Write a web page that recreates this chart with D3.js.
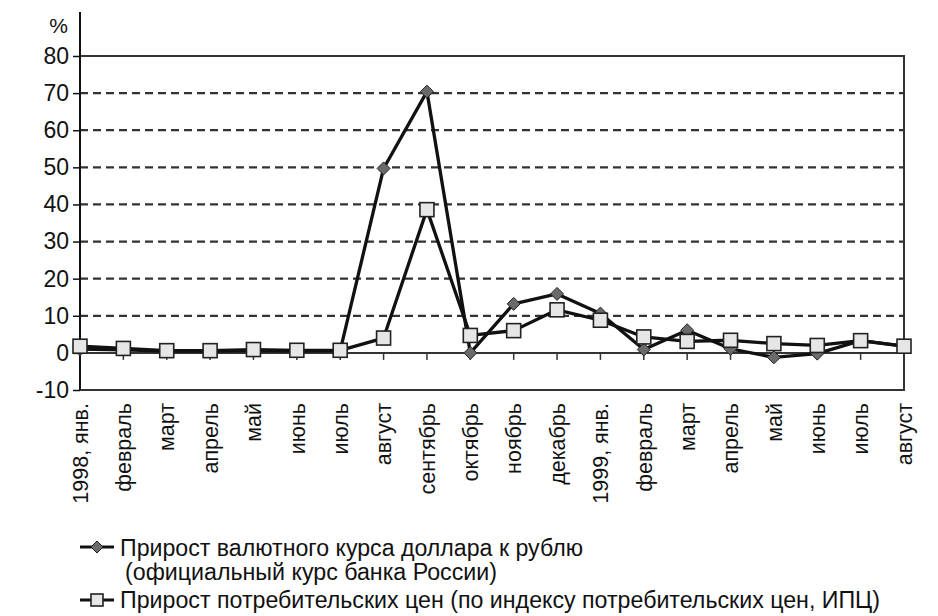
<!DOCTYPE html>
<html>
<head>
<meta charset="utf-8">
<script src="https://cdn.jsdelivr.net/npm/d3@7"></script>
<style>
  html, body { margin: 0; padding: 0; background: #fff; }
  svg { display: block; }
  text { font-family: "Liberation Sans", Arial, Helvetica, sans-serif; fill: #111; }
  text.lt { font-family: "Liberation Sans Narrow", "Arial Narrow", "Liberation Sans", Arial, sans-serif; }
</style>
</head>
<body>
<svg id="chart" width="938" height="616"></svg>
<script>
const months = ["1998, янв.", "февраль", "март", "апрель", "май", "июнь", "июль", "август",
  "сентябрь", "октябрь", "ноябрь", "декабрь", "1999, янв.", "февраль", "март", "апрель",
  "май", "июнь", "июль", "август"];
const exchangeRate = [1.0, 0.8, 0.5, 0.5, 0.6, 0.5, 0.6, 49.7, 70.4, 0.0, 13.2, 15.9,
  10.6, 0.9, 6.1, 1.1, -1.2, -0.2, 3.3, 1.8];
const cpi = [1.8, 1.2, 0.6, 0.6, 0.9, 0.7, 0.7, 4.0, 38.6, 4.7, 6.0, 11.6,
  8.8, 4.3, 3.1, 3.4, 2.5, 2.0, 3.3, 1.8];
const yTicks = [-10, 0, 10, 20, 30, 40, 50, 60, 70, 80];
const legendLines = [
  "Прирост валютного курса доллара к рублю",
  "(официальный курс банка России)",
  "Прирост потребительских цен (по индексу потребительских цен, ИПЦ)"
];

(function () {
const svg = d3.select("#chart");
const mLeft = 80, mRight = 904, mTop = 56, mBottom = 390;

const x = d3.scalePoint().domain(d3.range(months.length)).range([mLeft, mRight]);
const y = d3.scaleLinear().domain([-10, 80]).range([mBottom, mTop]);

// dashed gridlines
svg.append("g").selectAll("line")
  .data(yTicks.filter(t => t > 0 && t < 80))
  .join("line")
  .attr("x1", mLeft).attr("x2", mRight)
  .attr("y1", d => y(d)).attr("y2", d => y(d))
  .attr("stroke", "#333").attr("stroke-width", 2.2)
  .attr("stroke-dasharray", "8,5");

// frame (top, right, bottom)
svg.append("path")
  .attr("d", `M${mLeft},${y(80)}H${mRight}V${y(-10)}H${mLeft}`)
  .attr("fill", "none").attr("stroke", "#333").attr("stroke-width", 2);

// zero line
svg.append("line")
  .attr("x1", mLeft).attr("x2", mRight)
  .attr("y1", y(0)).attr("y2", y(0))
  .attr("stroke", "#333").attr("stroke-width", 2);

// y axis
const yAxis = svg.append("g").attr("transform", `translate(${mLeft},0)`)
  .call(d3.axisLeft(y).tickValues(yTicks).tickSize(7).tickPadding(4).tickFormat(d3.format("d")));
yAxis.select(".domain").remove();
yAxis.append("line").attr("x1", 0).attr("x2", 0).attr("y1", 12).attr("y2", mBottom)
  .attr("stroke", "#111").attr("stroke-width", 2);
yAxis.selectAll(".tick line").attr("stroke", "#111").attr("stroke-width", 1.5);
yAxis.selectAll(".tick text").style("font-size", "23px").attr("fill", "#111")
  .text(d => d < 0 ? "-" + Math.abs(d) : d);

svg.append("text").attr("x", 68).attr("y", 33).attr("text-anchor", "end")
  .style("font-size", "21px").text("%");

// x ticks on zero line
svg.append("g").selectAll("line")
  .data(d3.range(1, months.length))
  .join("line")
  .attr("x1", d => x(d)).attr("x2", d => x(d))
  .attr("y1", y(0)).attr("y2", y(0) + 7)
  .attr("stroke", "#333").attr("stroke-width", 1.5);

// x labels
svg.append("g").selectAll("text")
  .data(months)
  .join("text")
  .attr("transform", (d, i) => `translate(${x(i)},403) rotate(-90)`)
  .attr("text-anchor", "end")
  .attr("dy", "0.36em")
  .style("font-size", "21.5px")
  .text(d => d);

// lines
const line = d3.line().x((d, i) => x(i)).y(d => y(d));
svg.append("path").datum(exchangeRate).attr("d", line)
  .attr("fill", "none").attr("stroke", "#111").attr("stroke-width", 3.3).attr("stroke-linejoin", "round");
svg.append("path").datum(cpi).attr("d", line)
  .attr("fill", "none").attr("stroke", "#111").attr("stroke-width", 3.3).attr("stroke-linejoin", "round");

const diamond = (cx, cy, r) => `M${cx},${cy - r}L${cx + r},${cy}L${cx},${cy + r}L${cx - r},${cy}Z`;

svg.append("g").selectAll("path")
  .data(exchangeRate)
  .join("path")
  .attr("d", (d, i) => diamond(x(i), y(d), 6.5))
  .attr("fill", "#6a6a6a").attr("stroke", "#222").attr("stroke-width", 1);

svg.append("g").selectAll("rect")
  .data(cpi)
  .join("rect")
  .attr("x", (d, i) => x(i) - 7).attr("y", d => y(d) - 7)
  .attr("width", 14).attr("height", 14)
  .attr("fill", "#e6e6e6").attr("stroke", "#222").attr("stroke-width", 1.6);

// legend
const lg = svg.append("g");
const legendY = [547, 600];
lg.append("line").attr("x1", 80).attr("x2", 114).attr("y1", legendY[0]).attr("y2", legendY[0])
  .attr("stroke", "#111").attr("stroke-width", 3);
lg.append("path").attr("d", diamond(97, legendY[0], 6))
  .attr("fill", "#6a6a6a").attr("stroke", "#222").attr("stroke-width", 1);
lg.append("line").attr("x1", 80).attr("x2", 114).attr("y1", legendY[1]).attr("y2", legendY[1])
  .attr("stroke", "#111").attr("stroke-width", 3);
lg.append("rect").attr("x", 91).attr("y", legendY[1] - 6).attr("width", 12).attr("height", 12)
  .attr("fill", "#e6e6e6").attr("stroke", "#222").attr("stroke-width", 1.6);

const legendPos = [[120, 556, 463], [125, 580, 372], [120, 608, 760]];
lg.selectAll("text.lt")
  .data(legendLines)
  .join("text")
  .attr("class", "lt")
  .attr("x", (d, i) => legendPos[i][0])
  .attr("y", (d, i) => legendPos[i][1])
  .attr("textLength", (d, i) => legendPos[i][2])
  .attr("lengthAdjust", "spacingAndGlyphs")
  .style("font-size", "23px")
  .text(d => d);
})();
</script>
</body>
</html>
